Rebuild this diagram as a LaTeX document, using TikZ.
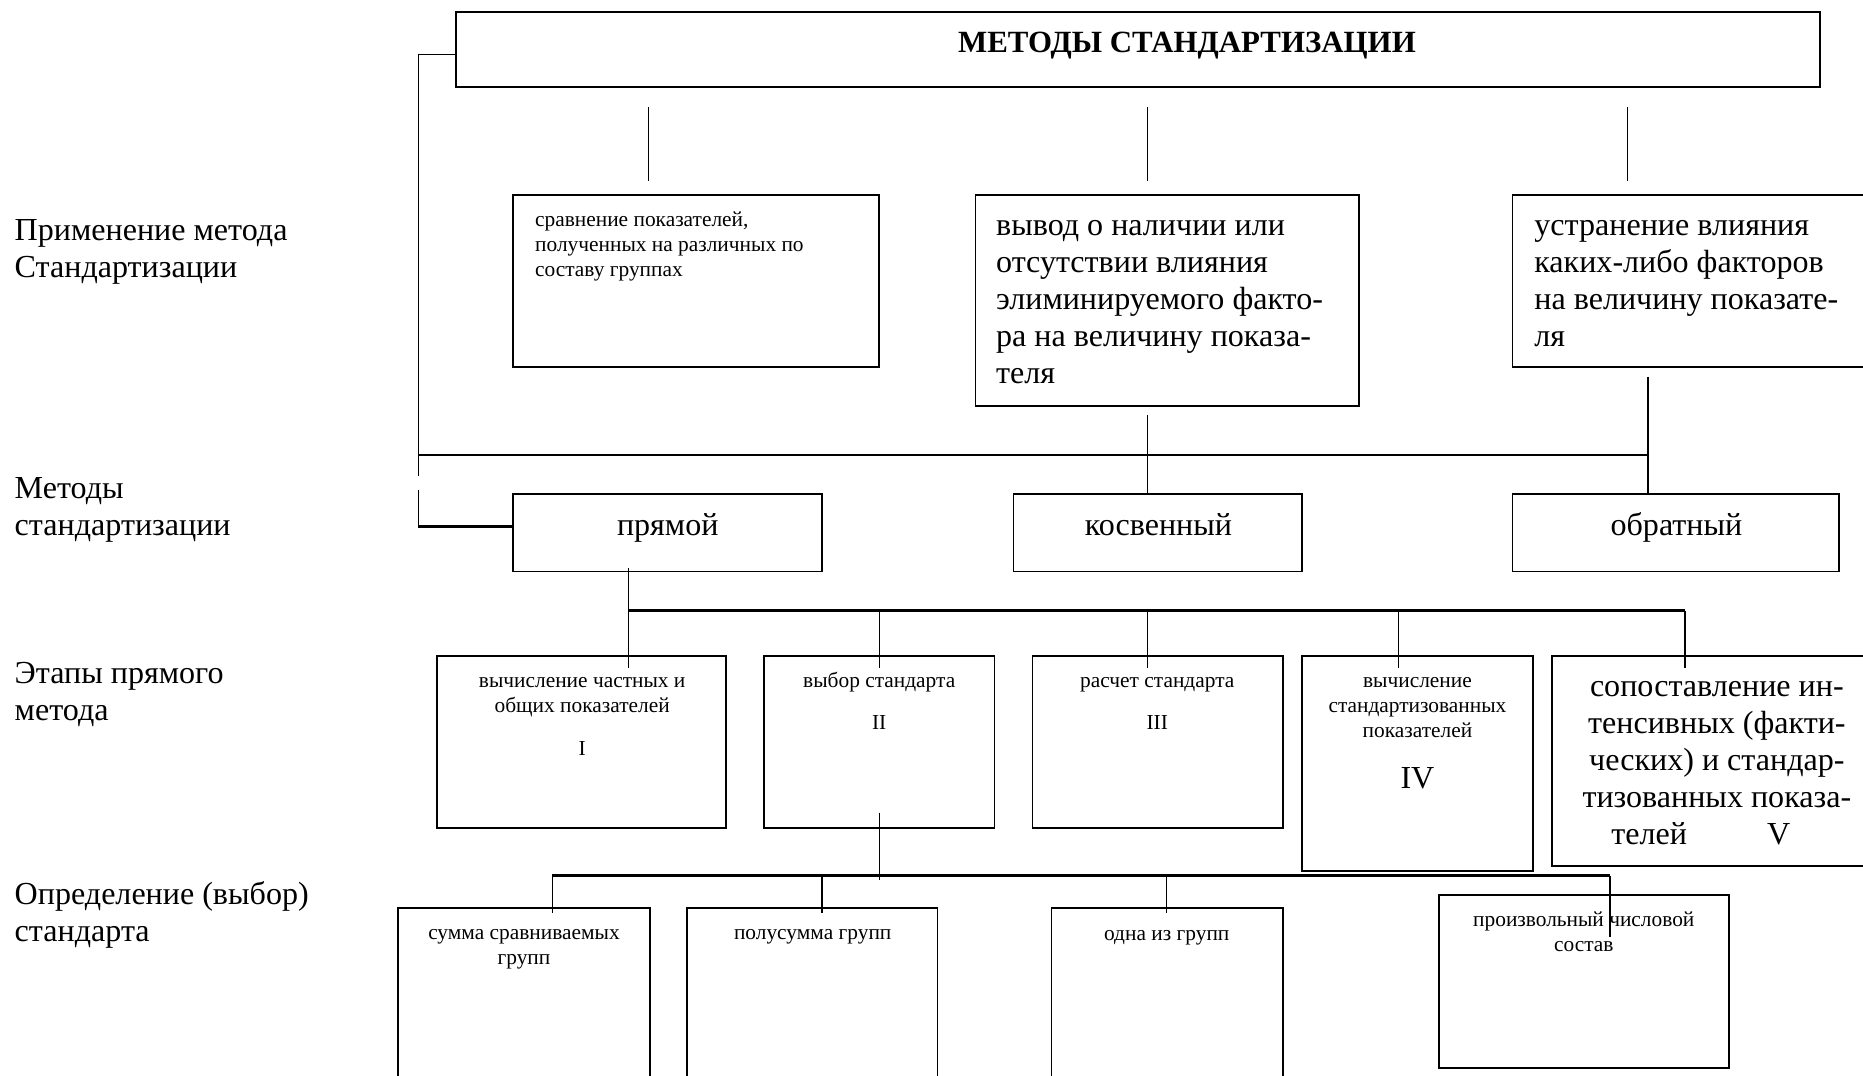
\documentclass[tikz,border=0pt]{standalone}
\usepackage{fontspec}
\setmainfont{Liberation Serif}
\usetikzlibrary{fit}
\tikzset{
  box/.style={draw, line width=0.8pt, inner sep=0pt},
  conn/.style={line width=0.6pt},
  bus/.style={line width=1.1pt},
  big/.style={font=\fontsize{13.5}{15.5}\selectfont, inner sep=0pt},
  small/.style={font=\fontsize{9}{10.5}\selectfont, inner sep=0pt},
  ttl/.style={font=\bfseries\fontsize{13}{15}\selectfont, inner sep=0pt},
}
\begin{document}
\begin{tikzpicture}[x=0.5pt,y=-0.5pt]
\useasboundingbox (0,0) rectangle (1568,905);
% boxes
\node[box, fit={(384,10)(1532,73)}] (top) {};
\node[box, fit={(432,164)(740,309)}] (A) {};
\node[box, fit={(821,164)(1144,342)}] (B) {};
\node[box, fit={(1273,164)(1590,309)}] (C) {};
\node[box, fit={(432,416)(692,481)}] (pr) {};
\node[box, fit={(853,416)(1096,481)}] (ko) {};
\node[box, fit={(1273,416)(1548,481)}] (ob) {};
\node[box, fit={(368,552)(611,697)}] (s1) {};
\node[box, fit={(643,552)(837,697)}] (s2) {};
\node[box, fit={(869,552)(1080,697)}] (s3) {};
\node[box, fit={(1096,552)(1290,733)}] (s4) {};
\node[box, fit={(1306,552)(1590,729)}] (s5) {};
\node[box, fit={(335,764)(547,930)}] (d1) {};
\node[box, fit={(578,764)(789,930)}] (d2) {};
\node[box, fit={(885,764)(1080,930)}] (d3) {};
\node[box, fit={(1211,753)(1455,899)}] (d4) {};

% texts
\node[ttl, anchor=base] (title) at (999,44.5) {МЕТОДЫ СТАНДАРТИЗАЦИИ};
\node[small, anchor=north west, align=left] (tA) at (450,175.4)
  {\strut сравнение показателей,\\полученных на различных по\\составу группах};
\node[big, anchor=north west, align=left] (tB) at (838,176.5)
  {\strut вывод о наличии или\\отсутствии влияния\\элиминируемого факто-\\ра на величину показа-\\теля};
\node[big, anchor=north west, align=left] (tC) at (1291,176.5)
  {\strut устранение влияния\\каких-либо факторов\\на величину показате-\\ля};
\node[big, anchor=base] (tpr) at (562,451) {прямой};
\node[big, anchor=base] (tko) at (975,451) {косвенный};
\node[big, anchor=base] (tob) at (1411,451) {обратный};
\node[small, anchor=north, align=center] (t1) at (490,563.4) {\strut вычисление частных и\\общих показателей};
\node[small, anchor=base] (n1) at (490,636) {I};
\node[small, anchor=north, align=center] (t2) at (740,563.4) {\strut выбор стандарта};
\node[small, anchor=base] (n2) at (740,614) {II};
\node[small, anchor=north, align=center] (t3) at (974,563.4) {\strut расчет стандарта};
\node[small, anchor=base] (n3) at (974,614) {III};
\node[small, anchor=north, align=center] (t4) at (1193,563.4) {\strut вычисление\\стандартизованных\\показателей};
\node[big, anchor=base] (n4) at (1193,664) {IV};
\node[big, anchor=north, align=center] (t5) at (1445,564.5)
  {\strut сопоставление ин-\\тенсивных (факти-\\ческих) и стандар-\\тизованных показа-\\телей\hspace*{2.5em}V\hspace*{1em}};
\node[small, anchor=north, align=center] (u1) at (441,775.4) {\strut сумма сравниваемых\\групп};
\node[small, anchor=north, align=center] (u2) at (684,775.4) {\strut полусумма групп};
\node[small, anchor=north, align=center] (u3) at (982,776.4) {\strut одна из групп};
\node[small, anchor=north, align=center] (u4) at (1333,764.4) {\strut произвольный числовой\\состав};

% left labels
\node[big, anchor=north west, align=left] (L1) at (12,180.5) {\strut Применение метода\\Стандартизации};
\node[big, anchor=north west, align=left] (L2) at (12,397.5) {\strut Методы\\стандартизации};
\node[big, anchor=north west, align=left] (L3) at (12,553.5) {\strut Этапы прямого\\метода};
\node[big, anchor=north west, align=left] (L4) at (12,739.5) {\strut Определение (выбор)\\стандарта};

% connectors
\coordinate (jl) at (352,46);
\coordinate (pl) at (352,443);
\draw[conn] (top.west |- jl) -- (jl) -- (352,401);
\draw[conn] (352,412) -- (pl);
\draw[line width=1pt] (pl) -- (pl -| pr.west);
\foreach \x in {546,966,1370} \draw[conn] (\x,90) -- (\x,152);
\draw[bus] (352,383) -- (1387,383);
\coordinate (cc) at (1387,317);
\draw[conn] (cc) -- (cc |- ob.north);
\coordinate (cb) at (966,349);
\draw[conn] (cb) -- (cb |- ko.north);

\coordinate (cp) at (529,478);
\draw[conn] (cp) -- (529,514);
\draw[bus] (529,514) -- (1418,514);
\foreach \x in {529,740,966,1177,1418} \draw[conn] (\x,514) -- (\x,562);

\coordinate (c2) at (740,684);
\draw[conn] (c2) -- (740,741);
\draw[bus] (465,737) -- (1355,737);
\foreach \x in {465,692,982} \draw[conn] (\x,737) -- (\x,768);
\draw[conn] (1355,737) -- (1355,789);
\end{tikzpicture}
\end{document}
